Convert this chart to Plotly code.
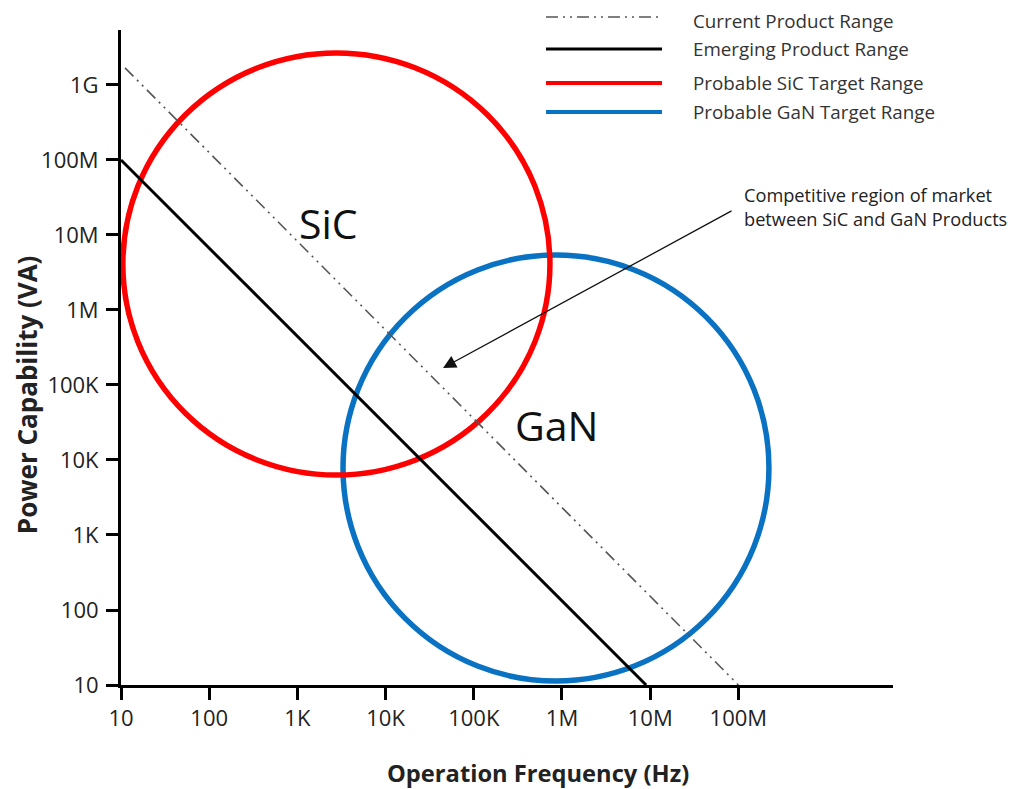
import math
import plotly.graph_objects as go

# ---------------- data ----------------
x_tick_vals = [10, 100, 1e3, 1e4, 1e5, 1e6, 1e7, 1e8]
x_tick_text = ["10", "100", "1K", "10K", "100K", "1M", "10M", "100M"]
y_tick_vals = [10, 100, 1e3, 1e4, 1e5, 1e6, 1e7, 1e8, 1e9]
y_tick_text = ["10", "100", "1K", "10K", "100K", "1M", "10M", "100M", "1G"]

current_x = [11.1, 1e8]
current_y = [1.69e9, 10]
emerging_x = [10, 9e6]
emerging_y = [1e8, 10]

# circles: [x_min, x_max], [y_min, y_max] (data values)
sic_x = [10.5, 7.3e5]
sic_y = [6.3e3, 2.67e9]
gan_x = [3.29e3, 2.22e8]
gan_y = [11.3, 5.41e6]

sic_label = (2.28e3, 1.45e7)
gan_label = (8.77e5, 2.93e4)
arrow_head = (4.48e4, 1.69e5)
arrow_tail = (8.7e7, 2.15e7)

legend_names = ["Current Product Range", "Emerging Product Range",
                "Probable SiC Target Range", "Probable GaN Target Range"]

x_title = "Operation Frequency (Hz)"
y_title = "Power Capability (VA)"

# -------------- styles -----------------
FONT = "Open Sans"
RED = "#ff0000"
BLUE = "#0a72c2"
CUR_COL = "#555555"
CUR_DASH = "12px,5px,2px,5px,2px,5px"

fig = go.Figure()
fig.add_trace(go.Scatter(x=current_x, y=current_y, mode="lines",
                         line=dict(color=CUR_COL, width=1.6, dash=CUR_DASH),
                         name=legend_names[0], showlegend=False))
fig.add_trace(go.Scatter(x=emerging_x, y=emerging_y, mode="lines",
                         line=dict(color="black", width=3),
                         name=legend_names[1], showlegend=False))

fig.add_shape(type="circle", xref="x", yref="y", layer="below",
              x0=gan_x[0], x1=gan_x[1], y0=gan_y[0], y1=gan_y[1],
              line=dict(color=BLUE, width=5.5))
fig.add_shape(type="circle", xref="x", yref="y", layer="below",
              x0=sic_x[0], x1=sic_x[1], y0=sic_y[0], y1=sic_y[1],
              line=dict(color=RED, width=5.5))

# region labels
fig.add_annotation(x=math.log10(sic_label[0]), y=math.log10(sic_label[1]),
                   xref="x", yref="y", text="SiC", showarrow=False,
                   font=dict(family=FONT, size=41, color="#111"))
fig.add_annotation(x=math.log10(gan_label[0]), y=math.log10(gan_label[1]),
                   xref="x", yref="y", text="GaN", showarrow=False,
                   font=dict(family=FONT, size=41, color="#111"))

# arrow
fig.add_annotation(x=math.log10(arrow_head[0]), y=math.log10(arrow_head[1]),
                   xref="x", yref="y",
                   ax=math.log10(arrow_tail[0]), ay=math.log10(arrow_tail[1]),
                   axref="x", ayref="y", text="", showarrow=True,
                   arrowhead=2, arrowsize=2.0, arrowwidth=1.3, arrowcolor="#111")
fig.add_annotation(x=0.804, y=0.73, xref="paper", yref="paper",
                   xanchor="left", yanchor="middle", align="left",
                   text="Competitive region of market<br>between SiC and GaN Products",
                   showarrow=False, font=dict(family=FONT, size=18.2, color="#222"))

# axis titles (placed as in the reference, off-centre)
fig.add_annotation(x=0.540, y=-0.1344, xref="paper", yref="paper",
                   xanchor="center", yanchor="middle", text="<b>" + x_title + "</b>",
                   showarrow=False, font=dict(family=FONT, size=23.7, color="#222"))
fig.add_annotation(x=-0.1218, y=0.444, xref="paper", yref="paper",
                   xanchor="center", yanchor="middle", textangle=-90,
                   text="<b>" + y_title + "</b>",
                   showarrow=False, font=dict(family=FONT, size=26, color="#222"))

# manual legend
leg_rows = [1.0198, 0.971, 0.919, 0.875]
leg_text_rows = [1.0140, 0.971, 0.919, 0.875]
leg_styles = [dict(color=CUR_COL, width=1.6, dash=CUR_DASH),
              dict(color="black", width=3),
              dict(color=RED, width=4),
              dict(color=BLUE, width=4)]
for name, yy, ty, st in zip(legend_names, leg_rows, leg_text_rows, leg_styles):
    fig.add_shape(type="line", xref="paper", yref="paper",
                  x0=0.5505, x1=0.7008, y0=yy, y1=yy, line=st)
    fig.add_annotation(x=0.7383, y=ty, xref="paper", yref="paper",
                       xanchor="left", yanchor="middle", text=name,
                       showarrow=False, font=dict(family=FONT, size=18.8, color="#333"))

fig.update_layout(
    width=1018, height=789,
    margin=dict(l=113, r=133, t=22, b=112, autoexpand=False),
    paper_bgcolor="white", plot_bgcolor="white",
    showlegend=False,
    font=dict(family=FONT, color="#222"),
    xaxis=dict(type="log", range=[1, 9.753], showgrid=False, zeroline=False,
               showline=True, linecolor="black", linewidth=3,
               ticks="outside", ticklen=12, tickwidth=3, tickcolor="black",
               tickvals=x_tick_vals, ticktext=x_tick_text,
               tickfont=dict(family=FONT, size=22, color="#222")),
    yaxis=dict(type="log", range=[1, 9.733], showgrid=False, zeroline=False,
               showline=True, linecolor="black", linewidth=3,
               ticks="outside", ticklen=12, tickwidth=3, tickcolor="black",
               tickvals=y_tick_vals, ticktext=y_tick_text,
               ticklabelstandoff=3,
               tickfont=dict(family=FONT, size=22, color="#222")),
)

fig.write_html("out.html")
